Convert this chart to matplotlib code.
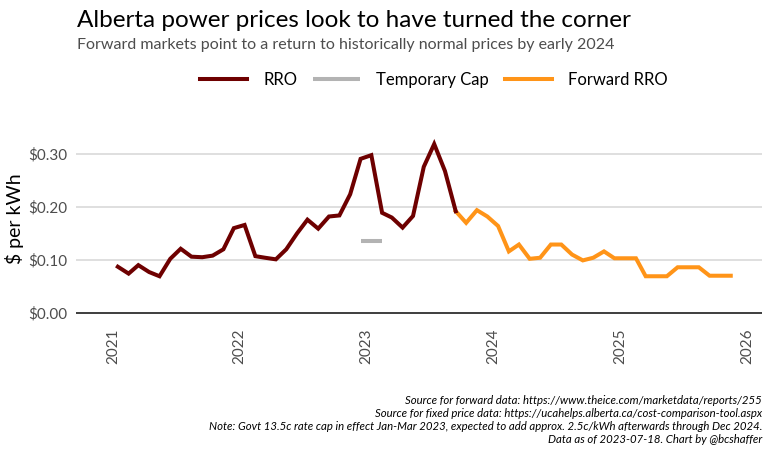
import matplotlib
matplotlib.use("Agg")
import matplotlib.pyplot as plt
import matplotlib.dates as mdates
import pandas as pd
import numpy as np

plt.rcParams['font.family'] = ['Lato', 'DejaVu Sans']

# ---- data ----
rro_start = "2021-01-01"
rro_values = [0.087, 0.074, 0.090, 0.077, 0.069, 0.102, 0.121, 0.106, 0.105, 0.108, 0.120, 0.160,
              0.166, 0.107, 0.104, 0.101, 0.120, 0.150, 0.176, 0.159, 0.182, 0.184, 0.224, 0.291,
              0.298, 0.189, 0.180, 0.161, 0.183, 0.276, 0.319, 0.268, 0.192]
cap_dates = ["2022-12-15", "2023-01-15", "2023-02-15"]
cap_values = [0.135, 0.135, 0.135]
fwd_start = "2023-09-01"
fwd_values = [0.192, 0.170, 0.194, 0.182,
              0.164, 0.116, 0.129, 0.102, 0.104, 0.129, 0.129, 0.110, 0.099, 0.104, 0.116, 0.103,
              0.103, 0.103, 0.069, 0.069, 0.069, 0.086, 0.086, 0.086, 0.070, 0.070, 0.070]
y_ticks = [0.0, 0.1, 0.2, 0.3]
y_ticklabels = ["$0.00", "$0.10", "$0.20", "$0.30"]
x_years = [2021, 2022, 2023, 2024, 2025, 2026]

rro_dates = pd.date_range(rro_start, periods=len(rro_values), freq="MS") + pd.Timedelta(days=14)
fwd_dates = pd.date_range(fwd_start, periods=len(fwd_values), freq="MS") + pd.Timedelta(days=14)
cap_d = pd.to_datetime(cap_dates)

fig = plt.figure(figsize=(7.69, 4.54), dpi=100)
ax = fig.add_axes([0.0988, 0.2925, 0.8922, 0.41])

ax.grid(axis='y', color='#d9d9d9', lw=1.2)
ax.set_axisbelow(True)
ax.axhline(0, color='#333333', lw=1.3, zorder=1)

l1, = ax.plot(rro_dates, rro_values, color='#6e0000', lw=2.9, label='RRO', solid_joinstyle='miter', zorder=3)
l2, = ax.plot(cap_d, cap_values, color='#b3b3b3', lw=2.9, label='Temporary Cap', solid_capstyle='butt', zorder=3)
l3, = ax.plot(fwd_dates, fwd_values, color='#ff9418', lw=2.9, label='Forward RRO', solid_joinstyle='miter', zorder=2)

for s in ax.spines.values():
    s.set_visible(False)

ax.set_yticks(y_ticks)
ax.set_yticklabels(y_ticklabels, fontsize=11, color='#4d4d4d')
ax.set_ylim(-0.016, 0.336)

xt = [pd.Timestamp(f"{y}-01-01") for y in x_years]
ax.set_xticks(xt)
ax.set_xticklabels([str(y) for y in x_years], rotation=90, fontsize=11, color='#4d4d4d')
x0 = mdates.date2num(pd.Timestamp("2021-01-01"))
x1 = mdates.date2num(pd.Timestamp("2026-01-01"))
ppd = (747 - 113) / (x1 - x0)
ax.set_xlim(x0 - (113 - 76) / ppd, x1 + (762 - 747) / ppd)
ax.tick_params(axis='x', length=0, pad=5)
ax.tick_params(axis='y', length=0, pad=6)

ax.set_ylabel("$ per kWh", fontsize=14, color='black')
ax.yaxis.set_label_coords(-0.076, 0.55)

fig.text(0.1, 0.955, "Alberta power prices look to have turned the corner", fontsize=17.5,
         ha='left', va='center', color='black')
fig.text(0.1, 0.9, "Forward markets point to a return to historically normal prices by early 2024",
         fontsize=11.5, ha='left', va='center', color='#4d4d4d')

fig.legend(handles=[l1, l2, l3], loc='center', bbox_to_anchor=(0.564, 0.824), ncol=3,
           frameon=False, fontsize=12, handlelength=2.85, handletextpad=0.95, columnspacing=0.95)

captions = ["Source for forward data: https://www.theice.com/marketdata/reports/255",
            "Source for fixed price data: https://ucahelps.alberta.ca/cost-comparison-tool.aspx",
            "Note: Govt 13.5c rate cap in effect Jan-Mar 2023, expected to add approx. 2.5c/kWh afterwards through Dec 2024.",
            "Data as of 2023-07-18. Chart by @bcshaffer"]
for i, c in enumerate(captions):
    fig.text(0.991, (454 - 400 - i * 13.3) / 454, c, fontsize=8.2, style='italic',
             ha='right', va='center', color='black')

fig.savefig("out.png", dpi=100)
